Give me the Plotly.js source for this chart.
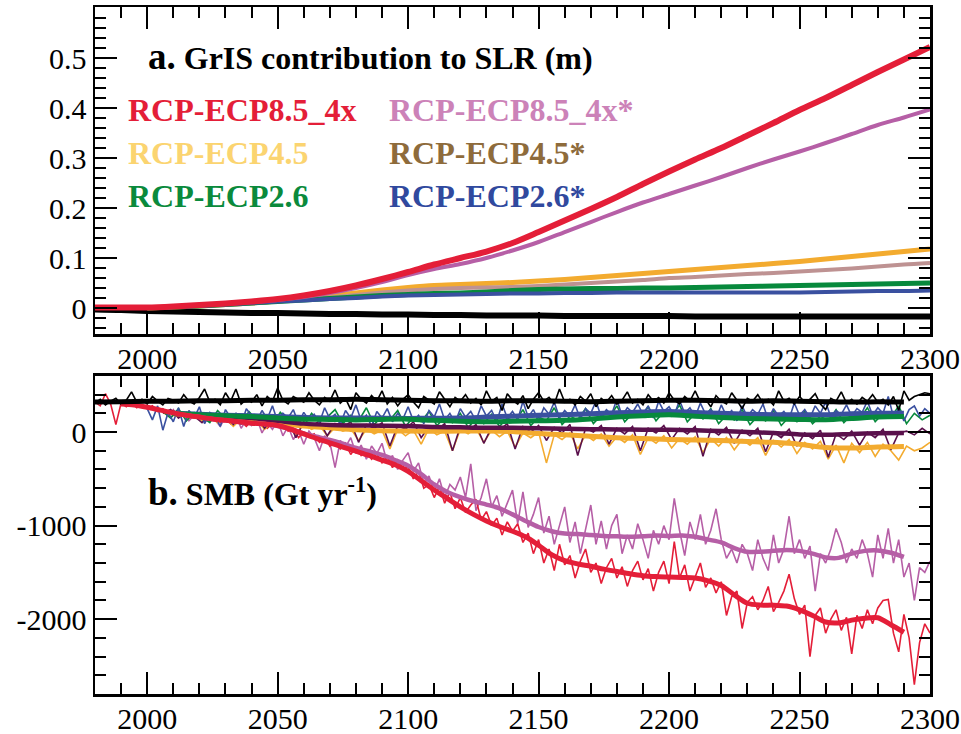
<!DOCTYPE html>
<html>
<head>
<meta charset="utf-8">
<script src="https://cdn.plot.ly/plotly-3.0.1.min.js"></script>
<style>html,body{margin:0;padding:0;background:#fff}</style>
</head>
<body>
<div id="chart" style="width:961px;height:734px"></div>
<script>
// ---------- helpers for year sequences ----------
function yrs(start, step, n){ var a=[]; for(var i=0;i<n;i++){a.push(start+i*step);} return a; }

// ---------- Panel a: GrIS contribution to SLR (m), decadal ----------
var slrYearsHist = yrs(1980,10,33);   // 1980..2300
var slrYearsScen = yrs(2000,10,31);   // 2000..2300
var slrBlack = [-0.003,-0.004,-0.006,-0.007,-0.008,-0.009,-0.01,-0.01,-0.011,-0.012,-0.012,-0.013,-0.013,-0.014,-0.014,-0.015,-0.015,-0.015,-0.016,-0.016,-0.016,-0.016,-0.016,-0.017,-0.017,-0.017,-0.017,-0.017,-0.017,-0.017,-0.017,-0.017,-0.017];
var slrRed = [0.001,0.001,0.001,0.003,0.006,0.009,0.013,0.018,0.025,0.034,0.045,0.058,0.072,0.087,0.1,0.113,0.13,0.152,0.175,0.198,0.222,0.248,0.273,0.297,0.32,0.345,0.37,0.396,0.42,0.446,0.472,0.497,0.522];
var slrPink = [0,0.002,0.005,0.008,0.012,0.016,0.022,0.03,0.04,0.052,0.066,0.078,0.088,0.1,0.115,0.132,0.152,0.172,0.192,0.211,0.228,0.245,0.262,0.28,0.297,0.313,0.33,0.348,0.366,0.381,0.397];
var slrOrange = [0,0.002,0.004,0.007,0.01,0.014,0.019,0.024,0.03,0.036,0.041,0.045,0.047,0.049,0.051,0.054,0.057,0.061,0.065,0.069,0.073,0.077,0.081,0.085,0.089,0.093,0.098,0.103,0.108,0.113,0.118];
var slrRosy = [0,0.002,0.004,0.006,0.009,0.013,0.017,0.021,0.026,0.031,0.035,0.038,0.04,0.041,0.042,0.044,0.047,0.05,0.053,0.056,0.06,0.062,0.065,0.068,0.07,0.073,0.076,0.079,0.083,0.087,0.09];
var slrGreen = [0,0.002,0.004,0.007,0.01,0.013,0.016,0.019,0.022,0.025,0.027,0.029,0.03,0.032,0.035,0.037,0.038,0.039,0.039,0.04,0.04,0.041,0.042,0.043,0.044,0.045,0.046,0.047,0.048,0.049,0.05];
var slrBlue = [0,0.002,0.004,0.007,0.01,0.013,0.015,0.018,0.02,0.023,0.025,0.026,0.027,0.028,0.029,0.029,0.03,0.03,0.031,0.031,0.031,0.031,0.031,0.031,0.031,0.031,0.032,0.033,0.034,0.034,0.035];

// ---------- Panel b: SMB (Gt/yr) annual-ish thin lines ----------
var yrsThin2Full = yrs(1980,2,161);   // 1980..2300
var yrsThin2Pink = yrs(2006,2,148);   // 2006..2300
var yrsThin2Blue = yrs(2000,2,151);   // 2000..2300
var yrsThin3 = yrs(2006,3,99);        // 2006..2300

var smbBlackThin = [310,350,290,330,360,300,340,430,320,350,
300,380,330,290,360,340,310,400,330,300,
370,460,320,350,290,420,330,460,300,350,
320,400,280,380,330,470,340,300,380,350,
320,420,340,290,370,330,450,310,360,240,
420,350,310,390,330,440,300,370,280,350,
400,320,260,380,340,300,430,350,270,370,
330,400,310,360,290,440,330,370,230,410,
340,300,390,250,350,420,330,370,300,460,
320,350,290,380,330,410,270,360,320,390,
300,340,430,310,350,290,400,330,370,310,
420,340,300,380,330,440,320,350,270,390,
330,300,420,340,250,360,330,400,310,350,
290,440,330,360,300,380,320,350,410,300,
240,360,330,430,310,350,300,370,330,400,
320,350,290,380,230,440,340,380,400,420,
410];
var smbRedThin = [320,280,410,300,80,310,270,320,260,290,
250,280,220,250,200,230,170,210,150,190,
140,180,120,160,100,150,90,140,110,60,
120,80,110,40,90,60,100,10,40,-60,
0,-50,-20,-110,-60,-150,-90,-180,-120,-240,
-160,-250,-200,-290,-230,-330,-260,-380,-300,-400,
-370,-500,-420,-600,-560,-700,-580,-760,-640,-820,
-700,-860,-780,-720,-940,-850,-1000,-920,-1100,-960,
-1060,-980,-1180,-1080,-1300,-1150,-1400,-1250,-1480,-1200,
-1420,-1320,-1560,-1380,-1250,-1500,-1400,-1620,-1450,-1350,
-1560,-1440,-1650,-1480,-1380,-1580,-1460,-1700,-1500,-1380,
-1620,-1170,-1560,-1420,-1700,-1540,-1400,-1660,-1560,-1720,
-1600,-1960,-1760,-1700,-2100,-1820,-1760,-1900,-1800,-1650,
-1920,-1820,-1700,-1520,-1780,-1950,-1850,-2400,-1960,-1880,
-2150,-2000,-1900,-2120,-1980,-2370,-1960,-2100,-1900,-2050,
-1880,-1800,-1790,-2150,-2350,-1950,-2200,-2700,-2250,-2050,
-2150];
var smbPinkThin = [220,170,240,150,200,120,180,210,100,170,
130,60,160,90,180,40,130,70,150,-10,
100,30,120,-40,60,-80,20,-130,10,-60,
-200,-40,-110,-380,-90,-160,-60,-230,-140,-290,
-150,-230,-120,-330,-250,-400,-300,-220,-420,-330,
-560,-470,-640,-500,-700,-560,-620,-480,-700,-340,
-840,-700,-500,-800,-680,-900,-760,-620,-980,-640,
-1020,-880,-700,-1080,-900,-1200,-1000,-800,-1180,-960,
-1300,-1050,-780,-1200,-950,-1250,-1000,-880,-1300,-1100,
-1250,-980,-1150,-1350,-1050,-1200,-1000,-1150,-710,-1050,
-1320,-960,-1150,-880,-1200,-1050,-820,-1150,-1350,-1250,
-1400,-1200,-1300,-1480,-1150,-1350,-1480,-1100,-1400,-1250,
-900,-1300,-1150,-1350,-1220,-1700,-1300,-1400,-1250,-1030,
-1180,-1400,-1250,-1350,-1150,-1300,-1550,-1100,-1350,-1030,
-1400,-1150,-1550,-1400,-1800,-1450,-1500,-1380];
var smbBlueThin = [250,130,280,20,210,110,260,60,230,150,
270,90,210,170,60,240,150,200,80,250,
170,120,230,140,280,110,200,150,240,90,
210,130,190,100,260,140,190,80,230,150,
290,120,180,60,220,150,250,110,200,140,
270,120,180,90,230,160,300,130,200,100,
250,160,220,120,280,170,230,110,300,150,
220,130,330,160,240,120,260,190,320,150,
230,170,290,140,250,200,330,160,240,190,
350,170,260,210,300,190,280,150,330,220,
270,180,340,200,260,160,310,190,240,140,
290,170,230,120,280,160,240,190,300,130,
250,170,220,140,310,180,240,150,280,200,
320,160,230,190,290,170,250,210,330,180,
260,200,380,160,250,120,240,280,170,250,
200];
var smbGreenThin = [220,150,250,120,210,160,100,230,140,190,
90,220,130,180,70,210,120,170,60,200,
110,160,240,90,180,120,260,80,170,130,
230,60,160,110,220,70,150,100,200,50,
140,90,190,60,150,110,240,70,160,120,
260,80,170,130,250,90,180,150,280,110,
200,160,270,120,220,170,290,110,200,140,
250,90,180,130,240,80,170,120,230,70,
160,110,220,90,170,120,240,100,190,140,
260,110,200,150,280,90,200,130,180];
var smbPurpleThin = [200,240,150,210,170,100,200,150,190,80,
170,120,160,40,140,90,130,-60,110,60,
120,-40,90,50,110,-110,80,40,100,-150,
70,30,110,-60,60,20,90,-200,60,10,
80,-120,50,20,90,-180,60,0,70,-90,
50,-10,80,-250,40,0,70,-130,40,-20,
60,-200,40,-10,70,-80,40,-20,60,-260,
30,-30,50,-120,20,-40,40,-210,0,-60,
30,-150,-10,-70,20,-270,-20,-80,10,-140,
0,-60,30,-190,-10,10,-30,40,-20];
var smbOrangeThin = [210,160,230,140,190,120,170,100,150,60,
140,90,120,30,110,60,90,-20,80,30,
70,-40,50,10,40,-90,30,-20,20,-180,
30,-40,20,-130,40,-30,10,-200,30,-20,
40,-110,20,-50,10,-160,-10,-60,0,-330,
-30,-80,-10,-180,-30,-90,-20,-150,-50,-110,
-30,-240,-60,-120,-40,-170,-70,-130,-50,-220,
-70,-150,-60,-190,-80,-140,-60,-250,-90,-160,
-80,-230,-110,-180,-100,-290,-140,-330,-120,-220,
-110,-260,-130,-200,-300,-150,-200,-170,-110];

// ---------- Panel b: smoothed thick lines ----------
var yrsThickBlack = yrs(1980,10,32);  // 1980..2290
var yrsThickRed = yrs(1990,5,61);     // 1990..2290
var yrsThickPink = yrs(2010,5,57);    // 2010..2290
var yrsThickScen = yrs(2010,10,29);   // 2010..2290
var smbBlackThick = [320,325,330,330,335,335,340,340,345,345,350,345,340,335,335,330,335,335,330,325,330,335,340,340,335,330,335,330,325,320,325,320];
var smbRedThick = [300,290,265,235,205,180,160,140,125,110,
95,85,70,30,-20,-70,-115,-160,-205,-250,
-300,-350,-420,-520,-620,-710,-800,-880,-950,-1010,
-1060,-1120,-1210,-1310,-1375,-1410,-1435,-1465,-1490,-1515,
-1535,-1545,-1550,-1555,-1560,-1590,-1640,-1740,-1830,-1850,
-1850,-1860,-1900,-1960,-2030,-2040,-2010,-1990,-1985,-2060,
-2140];
var smbPinkThick = [205,180,160,140,125,110,95,85,65,30,
-15,-50,-85,-125,-170,-205,-245,-300,-360,-450,
-560,-640,-695,-740,-775,-815,-880,-950,-1015,-1060,
-1085,-1090,-1100,-1110,-1115,-1120,-1115,-1105,-1110,-1105,
-1120,-1150,-1180,-1240,-1280,-1280,-1270,-1260,-1270,-1300,
-1340,-1345,-1300,-1270,-1265,-1290,-1335];
var smbBlueThick = [200,190,180,175,165,155,150,150,148,145,148,150,160,170,180,185,195,205,215,220,210,200,190,185,185,185,195,200,200];
var smbGreenThick = [200,185,175,165,150,138,135,130,135,138,125,115,110,115,120,125,140,160,175,185,170,155,145,140,135,132,145,160,165];
var smbPurpleThick = [195,180,165,150,120,90,75,70,68,65,55,50,45,45,40,35,30,28,25,25,20,10,0,-10,-25,-30,-20,-12,-10];
var smbOrangeThick = [195,175,150,120,90,65,45,25,15,10,8,10,12,5,-15,-30,-45,-60,-70,-80,-85,-90,-100,-110,-130,-165,-170,-160,-155];

// ---------- labels ----------
var xTicks = [2000,2050,2100,2150,2200,2250,2300];
var yTicksA = [0,0.1,0.2,0.3,0.4,0.5];
var yTicksAText = ['0','0.1','0.2','0.3','0.4','0.5'];
var yTicksB = [-2000,-1000,0];
var yTicksBText = ['-2000','-1000','0'];
var legendNames = ['RCP-ECP8.5_4x','RCP-ECP8.5_4x*','RCP-ECP4.5','RCP-ECP4.5*','RCP-ECP2.6','RCP-ECP2.6*'];
var legendColors = ['#E41E38','#CC82B8','#FBD470','#8E6B3B','#0A8A3C','#30499E'];

var C = {red:'#E41E38', pink:'#B65FA6', orange:'#F3AB2F', rosy:'#BE9292', green:'#07893C', blue:'#3A50A0', black:'#000000', purple:'#5A104C'};

function ln(x,y,color,w,xa,ya,shape){
  return {x:x,y:y,type:'scatter',mode:'lines',xaxis:xa,yaxis:ya,hoverinfo:'skip',
          line:{color:color,width:w,shape:shape||'linear',smoothing:0.8}};
}

var traces = [
  // panel a
  ln(slrYearsHist, slrBlack, C.black, 6, 'x','y','spline'),
  ln(slrYearsScen, slrOrange, C.orange, 5, 'x','y','spline'),
  ln(slrYearsScen, slrRosy, C.rosy, 4, 'x','y','spline'),
  ln(slrYearsScen, slrGreen, C.green, 5, 'x','y','spline'),
  ln(slrYearsScen, slrBlue, C.blue, 4, 'x','y','spline'),
  ln(slrYearsScen, slrPink, C.pink, 4, 'x','y','spline'),
  ln(slrYearsHist, slrRed, C.red, 6, 'x','y','spline'),
  // panel b thin
  ln(yrsThin2Pink, smbPinkThin, C.pink, 1.6, 'x2','y2'),
  ln(yrsThin2Full, smbRedThin, C.red, 1.6, 'x2','y2'),
  ln(yrsThin3, smbOrangeThin, C.orange, 1.6, 'x2','y2'),
  ln(yrsThin3, smbPurpleThin, C.purple, 1.6, 'x2','y2'),
  ln(yrsThin3, smbGreenThin, C.green, 1.6, 'x2','y2'),
  ln(yrsThin2Blue, smbBlueThin, C.blue, 1.6, 'x2','y2'),
  ln(yrsThin2Full, smbBlackThin, C.black, 1.6, 'x2','y2'),
  // panel b thick
  ln(yrsThickScen, smbOrangeThick, C.orange, 5, 'x2','y2','spline'),
  ln(yrsThickScen, smbPurpleThick, C.purple, 4.5, 'x2','y2','spline'),
  ln(yrsThickScen, smbBlueThick, C.blue, 5, 'x2','y2','spline'),
  ln(yrsThickScen, smbGreenThick, C.green, 5, 'x2','y2','spline'),
  ln(yrsThickPink, smbPinkThick, C.pink, 4.5, 'x2','y2','spline'),
  ln(yrsThickRed, smbRedThick, C.red, 5, 'x2','y2','spline'),
  ln(yrsThickBlack, smbBlackThick, C.black, 5, 'x2','y2','spline')
];

var SERIF = 'Liberation Serif';

function xAxis(anchor){
  return {domain:[0,1], anchor:anchor, range:[1980,2300], tickvals:xTicks, ticktext:xTicks.map(String),
    ticks:'inside', ticklen:22, tickwidth:2, tickcolor:'#000', showline:true, linewidth:2.5, linecolor:'#000',
    mirror:'allticks', showgrid:false, zeroline:false, tickfont:{family:SERIF,size:30,color:'#000'},
    ticklabelstandoff:-4,
    minor:{dtick:10, tick0:1980, ticks:'inside', ticklen:11, tickwidth:2, tickcolor:'#000', showgrid:false}};
}
function yAxis(anchor, domain, range, tv, tt, mdt){
  return {domain:domain, anchor:anchor, range:range, tickvals:tv, ticktext:tt,
    ticks:'inside', ticklen:22, tickwidth:2, tickcolor:'#000', showline:true, linewidth:2.5, linecolor:'#000',
    mirror:'allticks', showgrid:false, zeroline:false, tickfont:{family:SERIF,size:30,color:'#000'},
    minor:{dtick:mdt, tick0:0, ticks:'inside', ticklen:11, tickwidth:2, tickcolor:'#000', showgrid:false}};
}

var annotations = [
  {xref:'x', yref:'y', x:1999.4, y:0.503, xanchor:'left', yanchor:'middle', showarrow:false,
   text:'<b><span style="font-size:37px">a.</span> GrIS contribution to SLR (m)</b>', font:{family:SERIF,size:32,color:'#000'}},
  {xref:'x2', yref:'y2', x:1999.4, y:-650, xanchor:'left', yanchor:'middle', showarrow:false,
   text:'<b><span style="font-size:37px">b.</span> SMB (Gt yr<sup>-1</sup>)</b>', font:{family:SERIF,size:32,color:'#000'}}
];
var legX = [1991.9, 2091.8];
var legY = [0.397, 0.311, 0.224];
for (var i=0;i<legendNames.length;i++){
  annotations.push({xref:'x', yref:'y', x:legX[i%2], y:legY[Math.floor(i/2)], xanchor:'left', yanchor:'middle',
    showarrow:false, text:'<b>'+legendNames[i]+'</b>', font:{family:SERIF,size:32,color:legendColors[i]}});
}

var layout = {
  width:961, height:734, margin:{l:95,r:31,t:7,b:40},
  paper_bgcolor:'#fff', plot_bgcolor:'#fff', showlegend:false,
  font:{family:SERIF,size:30,color:'#000'},
  xaxis: xAxis('y'),
  yaxis: yAxis('x',[0.524,1],[-0.052,0.602],yTicksA,yTicksAText,0.02),
  xaxis2: xAxis('y2'),
  yaxis2: yAxis('x2',[0,0.463],[-2800,600],yTicksB,yTicksBText,200),
  annotations: annotations
};

Plotly.newPlot('chart', traces, layout, {displayModeBar:false, staticPlot:true});
</script>
</body>
</html>
